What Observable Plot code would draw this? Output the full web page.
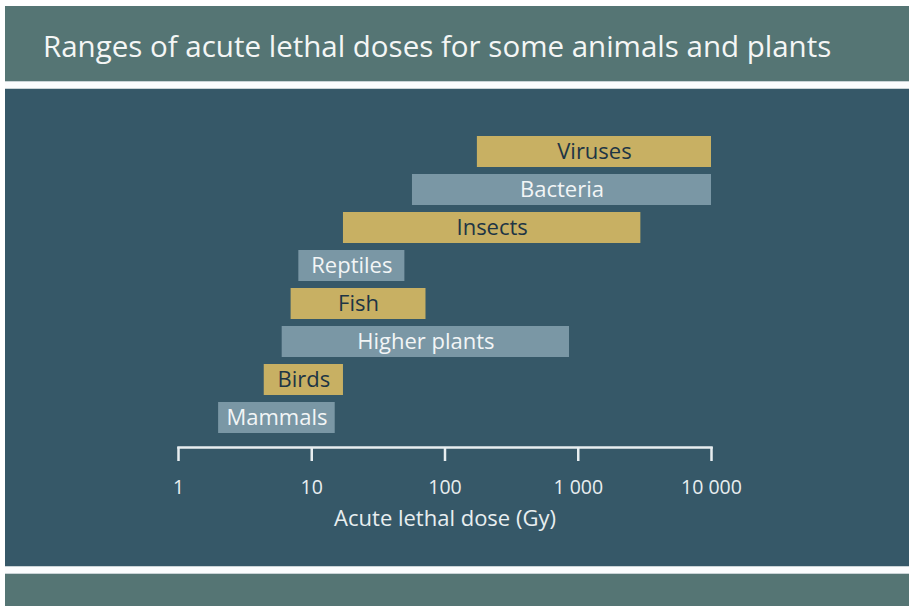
<!DOCTYPE html>
<html><head><meta charset="utf-8">
<script src="https://cdn.jsdelivr.net/npm/d3@7"></script>
<script src="https://cdn.jsdelivr.net/npm/@observablehq/plot@0.6"></script>
<style>
html,body{margin:0;padding:0;background:#fff;}
#wrap{position:absolute;left:5px;top:6px;width:904px;}
#title{height:75px;background:#557574;color:#f4f6f5;font-family:"Open Sans",sans-serif;font-size:29.5px;line-height:80px;padding-left:38px;box-sizing:border-box;white-space:nowrap;}
.stripe{height:8px;background:#fbfcfd;border-top:1px solid #c9d3d6;border-bottom:1px solid #c9d3d6;box-sizing:border-box;}
#chart{height:477px;background:#365868;}
#chart svg{display:block;}
#foot{height:40px;background:#557574;}
</style></head>
<body>
<div id="wrap">
  <div id="title">Ranges of acute lethal doses for some animals and plants</div>
  <div class="stripe"></div>
  <div id="chart"></div>
  <div class="stripe"></div>
  <div id="foot"></div>
</div>
<script>
const categories = ["Viruses","Bacteria","Insects","Reptiles","Fish","Higher plants","Birds","Mammals"];
const lowDose  = [175, 57, 17.3, 8, 7, 6, 4.4, 2];
const highDose = [10000, 10000, 2950, 50, 72, 860, 17.3, 15];
const group    = ["gold","blue","gold","blue","gold","blue","gold","blue"];
const tickValues = [1, 10, 100, 1000, 10000];
const tickLabels = ["1", "10", "100", "1 000", "10 000"];
const axisLabel = "Acute lethal dose (Gy)";

const rows = categories.map((c, i) => ({
  name: c, lo: lowDose[i], hi: highDose[i], g: group[i],
  mid: Math.sqrt(lowDose[i] * highDose[i])
}));

const font = "'Open Sans', sans-serif";
const chart = Plot.plot({
  width: 904,
  height: 477,
  marginLeft: 173,
  marginRight: 198,
  marginTop: 33,
  marginBottom: 119,
  style: {background: "transparent", fontFamily: font},
  x: {type: "log", domain: [1, 10000]},
  y: {domain: categories, paddingInner: 0.19, paddingOuter: 0.34, axis: null},
  marks: [
    Plot.barX(rows, {x1: "lo", x2: "hi", y: "name",
      fill: d => d.g === "gold" ? "#c8b063" : "#7a97a5"}),
    Plot.text(rows, {x: "mid", y: "name", text: "name", fontSize: 22,
      fill: d => d.g === "gold" ? "#1d3545" : "#f2f5f6"}),
    Plot.frame({anchor: "bottom", stroke: "#e8eef0", strokeWidth: 2.5, strokeOpacity: 1}),
    Plot.axisX({ticks: tickValues, tickFormat: (d) => tickLabels[tickValues.indexOf(d)],
      tickSize: 14, tickPadding: 19, fontSize: 19.5, stroke: "#e8eef0", strokeWidth: 2.5,
      strokeOpacity: 1, color: "#e8eef0", fill: "#e8eef0", label: null}),
    Plot.text([axisLabel], {frameAnchor: "bottom", text: d => d, dy: 78,
      fontSize: 22, fill: "#e8eef0"})
  ]
});
document.getElementById("chart").appendChild(chart);
</script>
</body></html>
